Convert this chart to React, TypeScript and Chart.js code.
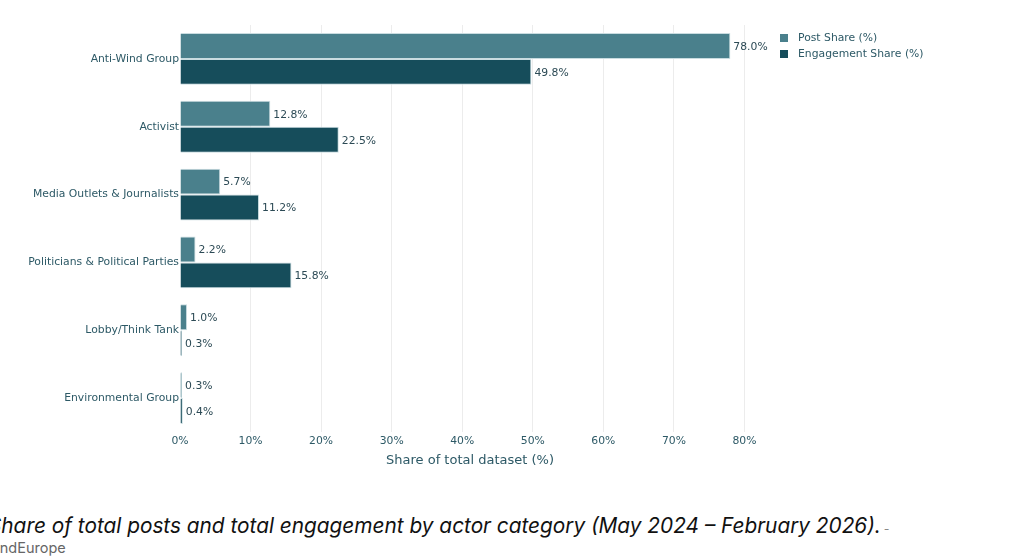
import React, { useEffect, useRef } from "react";
import { Chart, registerables } from "chart.js";

Chart.register(...registerables);

const categories = [
  "Anti-Wind Group",
  "Activist",
  "Media Outlets & Journalists",
  "Politicians & Political Parties",
  "Lobby/Think Tank",
  "Environmental Group",
];
const postShare = [78.0, 12.8, 5.7, 2.2, 1.0, 0.3];
const engagementShare = [49.8, 22.5, 11.2, 15.8, 0.3, 0.4];
const seriesNames = ["Post Share (%)", "Engagement Share (%)"];
const xTicks = [0, 10, 20, 30, 40, 50, 60, 70, 80];

const POST_COLOR = "#4a808c";
const ENG_COLOR = "#164d5b";
const TEXT_COLOR = "#2d5966";
const FONT = "'DejaVu Sans', Verdana, sans-serif";

const labelPlugin = {
  id: "barLabels",
  afterDatasetsDraw(chart: any) {
    const ctx = chart.ctx;
    ctx.save();
    ctx.font = `10.8px ${FONT}`;
    ctx.fillStyle = "#2c4a55";
    ctx.textBaseline = "middle";
    ctx.textAlign = "left";
    chart.data.datasets.forEach((ds: any, di: number) => {
      const meta = chart.getDatasetMeta(di);
      meta.data.forEach((el: any, i: number) => {
        const v = ds.data[i];
        ctx.fillText(v.toFixed(1) + "%", el.x + 3, el.y + 1);
      });
    });
    ctx.restore();
  },
};

export default function App() {
  const ref = useRef<HTMLCanvasElement | null>(null);
  useEffect(() => {
    if (!ref.current) return;
    const chart = new Chart(ref.current, {
      type: "bar",
      data: {
        labels: categories,
        datasets: [
          {
            label: seriesNames[0],
            data: postShare,
            backgroundColor: POST_COLOR,
            borderColor: "#c9dce0",
            borderWidth: 1,
            barPercentage: 1,
            categoryPercentage: 0.765,
          },
          {
            label: seriesNames[1],
            data: engagementShare,
            backgroundColor: ENG_COLOR,
            borderColor: "#c9dce0",
            borderWidth: 1,
            barPercentage: 1,
            categoryPercentage: 0.765,
          },
        ],
      },
      options: {
        indexAxis: "y",
        responsive: false,
        animation: false,
        devicePixelRatio: 1,
        layout: { padding: { left: 0, right: 257, top: 25, bottom: 8 } },
        plugins: {
          legend: { display: false },
          tooltip: { enabled: false },
        },
        scales: {
          x: {
            min: 0,
            max: 82.2,
            afterFit: (s: any) => {
              s.height = 40;
            },
            afterBuildTicks: (s: any) => {
              s.ticks = xTicks.map((v) => ({ value: v }));
            },
            ticks: {
              padding: 3,
              color: TEXT_COLOR,
              font: { family: FONT, size: 10.8 },
              callback: (v: any) => v + "%",
            },
            grid: {
              drawTicks: false,
              color: (c: any) => (c.tick && c.tick.value === 0 ? "rgba(0,0,0,0)" : "#ececec"),
              lineWidth: 1,
            },
            border: { display: false },
            title: {
              display: true,
              text: "Share of total dataset (%)",
              color: TEXT_COLOR,
              font: { family: FONT, size: 13 },
              padding: { top: 0, bottom: 4 },
            },
          },
          y: {
            afterFit: (s: any) => {
              s.width = 180;
            },
            ticks: {
              padding: 1,
              color: TEXT_COLOR,
              font: { family: FONT, size: 10.8 },
            },
            grid: { display: false, drawTicks: false },
            border: { display: false },
          },
        },
      },
      plugins: [labelPlugin],
    });
    return () => chart.destroy();
  }, []);

  const legendItem = (color: string, text: string, top: number) => (
    <div
      style={{
        position: "absolute",
        left: 780,
        top,
        display: "flex",
        alignItems: "center",
        fontFamily: FONT,
        fontSize: 10.8,
        color: TEXT_COLOR,
        whiteSpace: "nowrap",
      }}
    >
      <span
        style={{
          display: "inline-block",
          width: 8,
          height: 8,
          background: color,
          marginRight: 10,
        }}
      />
      {text}
    </div>
  );

  return (
    <div
      style={{
        position: "fixed",
        left: 0,
        top: 0,
        width: 1017,
        height: 556,
        background: "#ffffff",
        overflow: "hidden",
      }}
    >
      <canvas
        ref={ref}
        width={1017}
        height={480}
        style={{ position: "absolute", left: 0, top: 0, width: 1017, height: 480 }}
      />
      {legendItem(POST_COLOR, seriesNames[0], 31)}
      {legendItem(ENG_COLOR, seriesNames[1], 47)}
      <div
        style={{
          position: "absolute",
          left: -12,
          top: 513,
          fontFamily: "Inter, 'Noto Sans', sans-serif",
          fontStyle: "italic",
          fontSize: 20.8,
          color: "#111",
          whiteSpace: "nowrap",
        }}
      >
        Share of total posts and total engagement by actor category (May 2024 – February 2026).
        <span style={{ fontSize: 12, color: "#888", marginLeft: 3 }}>-</span>
      </div>
      <div
        style={{
          position: "absolute",
          left: -18,
          top: 539,
          fontFamily: "Inter, 'Noto Sans', sans-serif",
          fontSize: 14.5,
          color: "#666",
          whiteSpace: "nowrap",
        }}
      >
        WindEurope
      </div>
    </div>
  );
}
